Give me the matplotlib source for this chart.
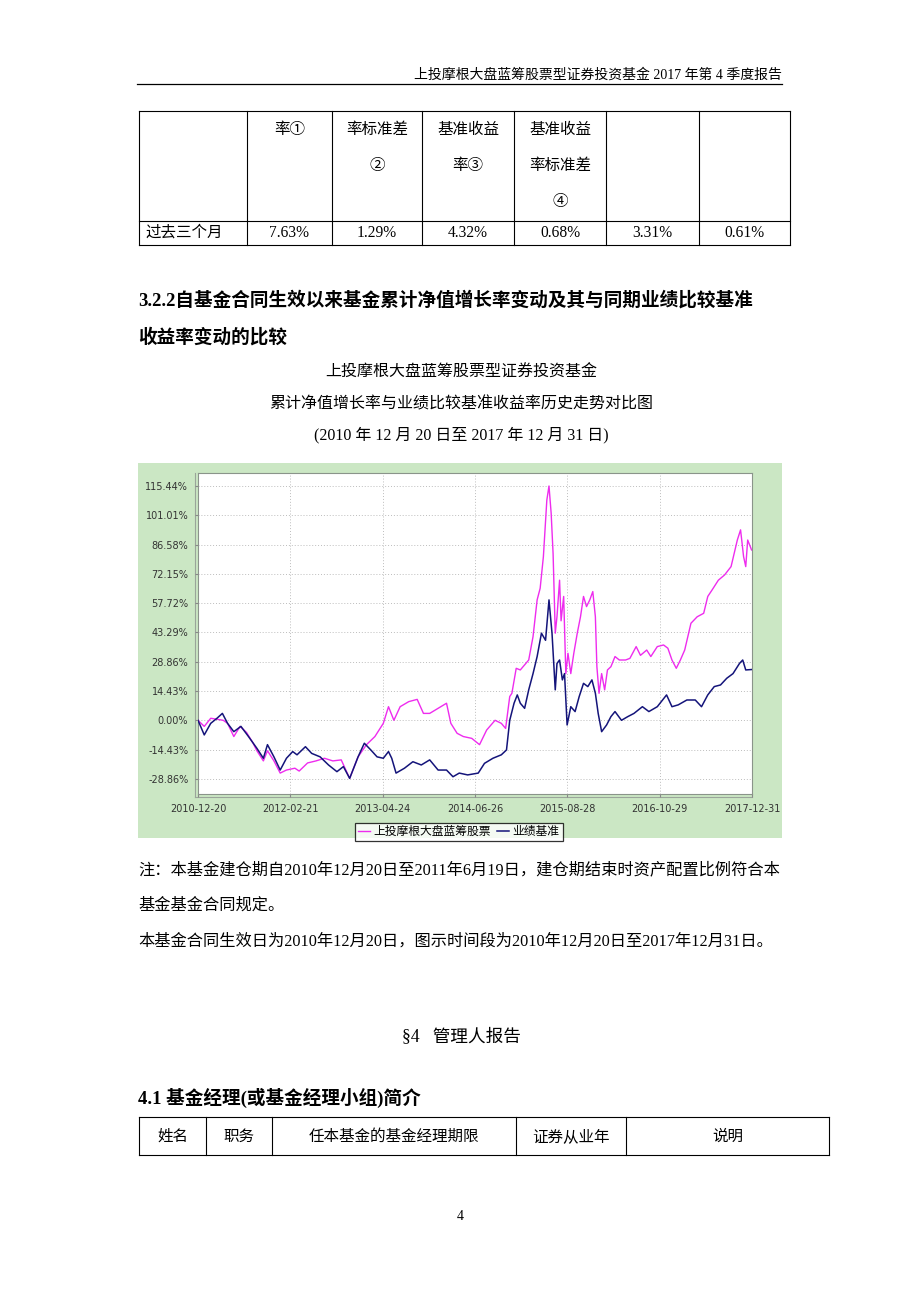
import numpy as np
import matplotlib
matplotlib.use("Agg")
import matplotlib.pyplot as plt
from matplotlib.patches import Rectangle
from matplotlib.lines import Line2D

plt.rcParams['font.family'] = ['Liberation Serif', 'Noto Sans CJK SC', 'DejaVu Sans']

# ---------------- data ----------------
start_date = '2010-12-20'
end_date = '2017-12-31'

fund_days = [0, 29, 59, 88, 117, 137, 166, 195, 225, 254, 273, 303, 322, 352, 381, 410, 449, 469,
             508, 547, 586, 625, 664, 703, 742, 781, 820, 859, 883, 908, 937, 977, 1016, 1045,
             1074, 1113, 1152, 1172, 1201, 1230, 1269, 1305, 1338, 1377, 1406, 1426, 1445, 1455,
             1475, 1494, 1514, 1533, 1553, 1572, 1586, 1601, 1617, 1627, 1637, 1646, 1656, 1664,
             1676, 1683, 1695, 1705, 1715, 1728, 1742, 1758, 1773, 1787, 1801, 1816, 1830, 1842,
             1849, 1859, 1871, 1885, 1898, 1914, 1933, 1953, 1982, 2002, 2031, 2051, 2080, 2099,
             2129, 2158, 2178, 2197, 2217, 2236, 2256, 2285, 2314, 2344, 2363, 2383, 2412, 2441,
             2471, 2500, 2515, 2529, 2539, 2548, 2566]
fund_vals = [0.0, -3.0, 1.0, 0.5, 0.0, -1.5, -8.0, -3.0, -6.0, -11.0, -15.0, -20.0, -15.0, -20.0,
             -26.0, -24.5, -23.6, -25.0, -21.0, -20.0, -18.7, -20.0, -19.5, -28.6, -18.0, -12.0,
             -8.0, -1.5, 6.7, 0.0, 6.7, 9.2, 10.3, 3.4, 3.4, 5.9, 8.4, -1.5, -6.4, -8.0, -8.9,
             -12.0, -4.8, 0.0, -1.5, -4.0, 11.7, 13.3, 25.6, 24.8, 27.3, 29.7, 41.2, 59.3, 65.0,
             80.6, 108.5, 115.4, 102.0, 82.0, 42.9, 51.0, 69.0, 49.0, 61.0, 23.0, 33.0, 23.0, 33.0,
             42.9, 51.0, 61.0, 56.0, 59.3, 63.4, 51.0, 26.4, 13.3, 23.0, 15.0, 24.8, 26.4, 31.4,
             29.7, 29.7, 30.5, 36.3, 32.0, 34.6, 31.4, 36.3, 37.1, 35.5, 29.7, 25.6, 29.7, 34.6,
             47.8, 51.0, 52.7, 61.0, 64.2, 69.0, 71.6, 75.7, 88.8, 93.8, 80.6, 75.7, 88.8, 83.9]

bench_days = [0, 29, 59, 88, 113, 137, 166, 199, 234, 273, 303, 322, 352, 381, 410, 439, 459, 498,
              527, 566, 605, 644, 674, 703, 742, 771, 801, 830, 859, 883, 898, 918, 957, 996, 1035,
              1074, 1113, 1152, 1182, 1211, 1250, 1299, 1328, 1367, 1406, 1430, 1445, 1465, 1480,
              1494, 1514, 1533, 1553, 1572, 1592, 1611, 1627, 1641, 1656, 1664, 1676, 1689, 1699,
              1711, 1728, 1748, 1767, 1787, 1807, 1826, 1842, 1855, 1871, 1894, 1914, 1933, 1963,
              1992, 2021, 2060, 2090, 2129, 2172, 2197, 2226, 2266, 2305, 2334, 2363, 2393, 2422,
              2451, 2480, 2510, 2525, 2539, 2566]
bench_vals = [0.0, -7.2, -1.5, 1.0, 3.4, -1.5, -5.6, -3.0, -8.0, -13.8, -18.7, -12.0, -18.0, -24.5,
              -18.7, -15.4, -17.0, -13.0, -16.3, -18.0, -22.0, -25.3, -22.8, -28.6, -18.0, -11.3,
              -14.6, -18.0, -18.7, -15.4, -18.7, -26.0, -23.6, -20.4, -22.0, -19.5, -24.5, -24.5,
              -27.8, -26.0, -26.9, -26.0, -21.2, -18.7, -17.0, -14.6, 0.0, 8.4, 12.5, 8.4, 5.9,
              15.0, 23.0, 31.4, 42.9, 39.4, 59.3, 42.9, 15.0, 28.0, 29.7, 19.9, 23.0, -2.3, 6.7,
              4.3, 11.7, 18.2, 16.6, 19.9, 13.3, 3.4, -5.6, -2.3, 1.8, 4.3, 0.0, 1.8, 3.4, 6.7,
              4.3, 6.7, 12.5, 6.7, 7.6, 10.0, 10.0, 6.7, 12.5, 16.6, 17.4, 20.7, 23.0, 28.0, 29.7,
              24.8, 25.0]

x_tick_labels = ['2010-12-20', '2012-02-21', '2013-04-24', '2014-06-26',
                 '2015-08-28', '2016-10-29', '2017-12-31']
y_tick_values = [-28.86, -14.43, 0.00, 14.43, 28.86, 43.29, 57.72, 72.15, 86.58, 101.01, 115.44]

series_names = ['上投摩根大盘蓝筹股票', '业绩基准']

table1_header = ['', '率①', '率标准差\n②', '基准收益\n率③', '基准收益\n率标准差\n④', '', '']
table1_row = ['过去三个月', '7.63%', '1.29%', '4.32%', '0.68%', '3.31%', '0.61%']
table2_header = ['姓名', '职务', '任本基金的基金经理期限', '证券从业年', '说明']

# ---------------- figure ----------------
W, H = 920, 1302
fig = plt.figure(figsize=(W / 100, H / 100), dpi=100)
fig.patch.set_facecolor('white')

page = fig.add_axes([0, 0, 1, 1])
page.set_xlim(0, W)
page.set_ylim(H, 0)
page.axis('off')

CJK = ['Liberation Serif', 'Noto Sans CJK SC', 'DejaVu Sans']

# header
page.text(782, 75, '上投摩根大盘蓝筹股票型证券投资基金 2017 年第 4 季度报告',
          ha='right', va='center', fontsize=10, family=CJK)
page.add_line(Line2D([137, 782], [84, 84], color='black', lw=0.9))

# table 1
cols1 = [139, 247, 332, 422, 514, 606, 699, 790]
for x in cols1:
    page.add_line(Line2D([x, x], [111, 245], color='black', lw=0.8))
for y in [111, 221, 245]:
    page.add_line(Line2D([cols1[0], cols1[-1]], [y, y], color='black', lw=0.8))
for i, txt in enumerate(table1_header):
    if not txt:
        continue
    cx = (cols1[i] + cols1[i + 1]) / 2
    for j, line in enumerate(txt.split('\n')):
        page.text(cx, 130 + 36 * j, line, ha='center', va='center', fontsize=11.2, family=CJK)
for i, txt in enumerate(table1_row):
    if i == 0:
        page.text(145, 233, txt, ha='left', va='center', fontsize=11.2, family=CJK)
    else:
        cx = (cols1[i] + cols1[i + 1]) / 2
        page.text(cx, 233, txt, ha='center', va='center', fontsize=11.2, family=CJK)

# section heading
page.text(138, 300, '3.2.2自基金合同生效以来基金累计净值增长率变动及其与同期业绩比较基准',
          ha='left', va='center', fontsize=13.4, fontweight='bold', family=CJK)
page.text(138, 337, '收益率变动的比较', ha='left', va='center', fontsize=13.4,
          fontweight='bold', family=CJK)

# chart titles
page.text(461, 373, '上投摩根大盘蓝筹股票型证券投资基金', ha='center', va='center',
          fontsize=11.5, family=CJK)
page.text(461, 404, '累计净值增长率与业绩比较基准收益率历史走势对比图', ha='center',
          va='center', fontsize=11.5, family=CJK)
page.text(461, 435, '(2010 年 12 月 20 日至 2017 年 12 月 31 日)', ha='center',
          va='center', fontsize=11.5, family=CJK)

# chart background (green panel)
page.add_patch(Rectangle((138, 463), 644, 375, facecolor='#cbe7c4', edgecolor='none'))
page.add_line(Line2D([195, 195], [473, 797], color='#9aa59a', lw=0.8))
page.add_line(Line2D([195, 752], [797, 797], color='#9aa59a', lw=0.8))

# notes
page.text(138, 870, '注：本基金建仓期自2010年12月20日至2011年6月19日，建仓期结束时资产配置比例符合本',
          ha='left', va='center', fontsize=11.7, family=CJK)
page.text(138, 906, '基金基金合同规定。', ha='left', va='center', fontsize=11.7, family=CJK)
page.text(138, 942, '本基金合同生效日为2010年12月20日，图示时间段为2010年12月20日至2017年12月31日。',
          ha='left', va='center', fontsize=11.7, family=CJK)

# section 4
page.text(461, 1038, '§4   管理人报告', ha='center', va='center', fontsize=12.7, family=CJK)
page.text(138, 1098, '4.1 基金经理(或基金经理小组)简介', ha='left', va='center',
          fontsize=13.4, fontweight='bold', family=CJK)

cols2 = [139, 206, 272, 516, 626, 829]
for x in cols2:
    page.add_line(Line2D([x, x], [1117, 1155], color='black', lw=0.8))
for y in [1117, 1155]:
    page.add_line(Line2D([cols2[0], cols2[-1]], [y, y], color='black', lw=0.8))
for i, txt in enumerate(table2_header):
    cx = (cols2[i] + cols2[i + 1]) / 2
    page.text(cx, 1137, txt, ha='center', va='center', fontsize=11.2, family=CJK)

page.text(460, 1217, '4', ha='center', va='center', fontsize=10, family=CJK)

# ---------------- chart ----------------
L, R, T, B = 198, 752, 473, 794
ax = fig.add_axes([L / W, 1 - B / H, (R - L) / W, (B - T) / H])
ax.set_facecolor('white')

t0 = np.datetime64(start_date)
fund_x = t0 + np.array(fund_days).astype('timedelta64[D]')
bench_x = t0 + np.array(bench_days).astype('timedelta64[D]')

ax.plot(fund_x, fund_vals, color='#ee2cee', lw=1.0, label=series_names[0], zorder=3)
ax.plot(bench_x, bench_vals, color='#14147a', lw=1.1, label=series_names[1], zorder=4)

ax.set_xlim(np.datetime64(start_date), np.datetime64(end_date))
ax.set_ylim(-36.3, 121.8)

tick_dates = [np.datetime64(d) for d in x_tick_labels]
ax.set_xticks(tick_dates)
ax.set_xticklabels(x_tick_labels)
ax.set_yticks(y_tick_values)
ax.set_yticklabels(['%.2f%%' % v for v in y_tick_values])

for lab in ax.get_xticklabels() + ax.get_yticklabels():
    lab.set_family('DejaVu Sans')
    lab.set_fontsize(7)
    lab.set_color('#333333')

ax.tick_params(axis='both', length=2, color='#888888', pad=5)
ax.grid(True, color='#bdbdbd', linestyle=(0, (1, 2)), lw=0.7)
for s in ax.spines.values():
    s.set_color('#8a948a')
    s.set_linewidth(0.8)

leg = ax.legend(loc='upper center', bbox_to_anchor=(459 / W, 1 - 817 / H),
                bbox_transform=fig.transFigure, ncol=2, frameon=True,
                fancybox=False, handlelength=1.0, handletextpad=0.3, columnspacing=0.5,
                borderpad=0.25, prop={'family': CJK, 'size': 8.5})
leg.get_frame().set_edgecolor('black')
leg.get_frame().set_linewidth(0.9)

fig.savefig('out.png', dpi=100, facecolor='white')
